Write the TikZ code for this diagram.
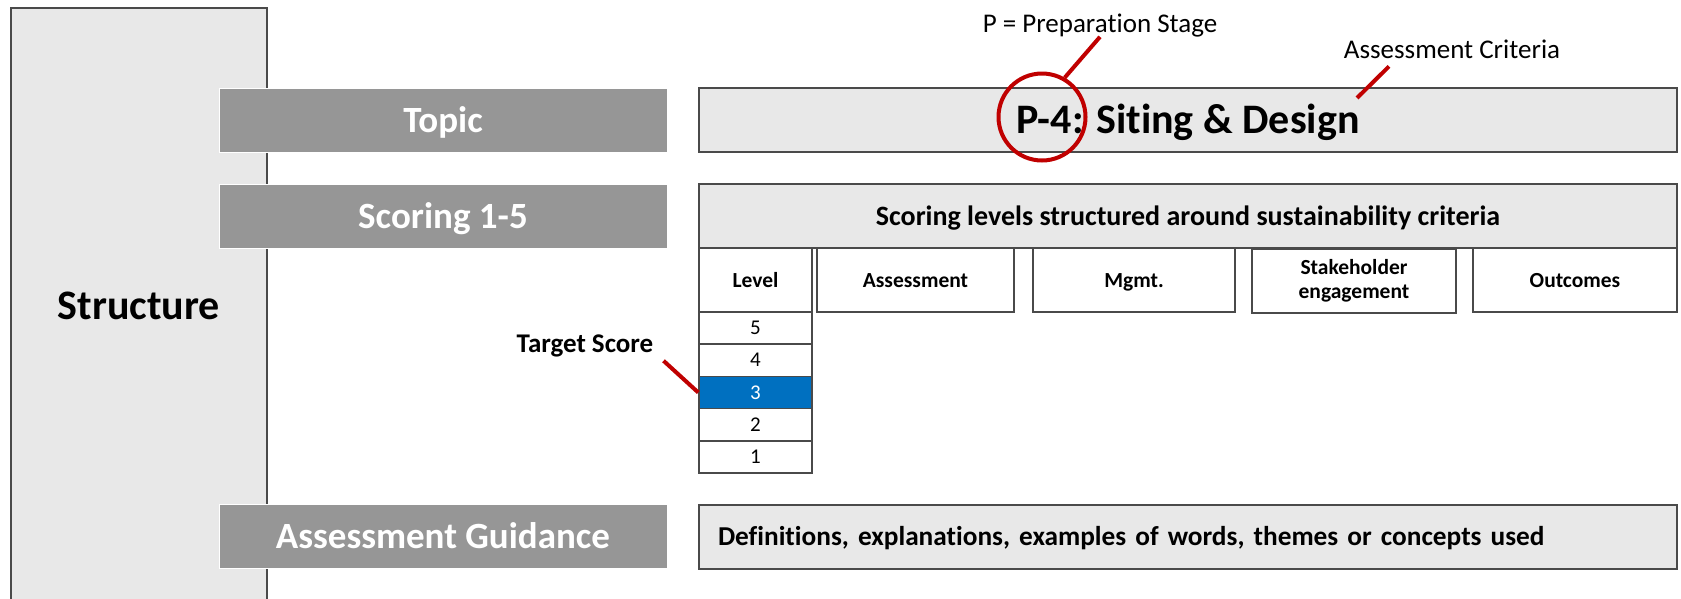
\documentclass[tikz,border=0pt]{standalone}
\usepackage{fontspec}
\setmainfont{Carlito}[Ligatures={NoCommon,NoContextual,NoRequired}]
\definecolor{paneg}{HTML}{E8E8E8}
\definecolor{edgegray}{HTML}{4A4A4A}
\definecolor{bargray}{HTML}{969696}
\definecolor{levblue}{HTML}{0070C0}
\definecolor{calred}{HTML}{C00000}
\begin{document}
\begin{tikzpicture}[x=1pt,y=-1pt,
    scorebar/.style={fill=bargray,draw=white,line width=1pt,minimum width=448pt,minimum height=64pt,
        text=white,font=\fontsize{37}{44}\selectfont\bfseries,text height=24pt,text depth=0pt},
    panelbox/.style={draw=edgegray,line width=2pt,fill=paneg,minimum width=978pt,minimum height=64pt},
    colhead/.style={draw=edgegray,line width=1.5pt,minimum height=64pt,font=\fontsize{21.5}{24}\selectfont\bfseries,align=center},
    oneline/.style={text height=14pt,text depth=0pt},
    levelcell/.style={draw=edgegray,line width=1.5pt,minimum width=113pt,minimum height=32.2pt,
        font=\fontsize{21}{24}\selectfont,text height=13pt,text depth=0pt},
    calloutline/.style={draw=calred,line width=4pt},
    notetext/.style={inner sep=0pt,font=\fontsize{27}{30}\selectfont}]
            \useasboundingbox (0,0) rectangle (1681,598);
            \draw[edgegray,line width=2pt,fill=paneg] (11,620) |- (267,8) -- (267,620);
            \node[font=\fontsize{42}{50}\selectfont\bfseries,text height=27pt,text depth=0pt] (struct) at (139,305.5) {Structure};
            \node[scorebar] (topic) at (443,120) {Topic};
            \node[scorebar] (scoring) at (443,216) {Scoring 1-5};
            \node[scorebar] (guide) at (443,536.5) {Assessment Guidance};
            \node[panelbox,font=\fontsize{42}{50}\selectfont\bfseries,text height=27pt,text depth=0pt] (title) at (1188,120) {P-4: Siting \& Design};
            \node[panelbox,font=\fontsize{28}{32}\selectfont\bfseries,text height=18pt,text depth=0pt] (header) at (1188,216) {Scoring levels structured around sustainability criteria};
            \node[panelbox,text width=940pt,inner xsep=19pt,align=left,font=\fontsize{27.3}{32}\selectfont\bfseries,text height=17.5pt,text depth=0pt] (defs) at (1188,536.5) {Definitions, explanations, examples of words, themes or concepts used};
            \node[colhead,oneline,minimum width=113pt] (lvl) at (755.5,280) {Level};
            \node[colhead,oneline,minimum width=197pt] (asmt) at (915.5,280) {Assessment};
            \node[colhead,oneline,minimum width=202pt] (mgmt) at (1134,280) {Mgmt.};
            \node[colhead,minimum width=204pt] (stake) at (1354,281) {Stakeholder\\engagement};
            \node[colhead,oneline,minimum width=204pt] (outc) at (1575,280) {Outcomes};
            \node[levelcell] (l5) at (755.5,328.1) {5};
            \node[levelcell] (l4) at (755.5,360.3) {4};
            \node[levelcell,fill=levblue,text=white] (l3) at (755.5,392.5) {3};
            \node[levelcell] (l2) at (755.5,424.7) {2};
            \node[levelcell] (l1) at (755.5,456.9) {1};
            \node[draw=calred,line width=4pt,circle,minimum size=87pt] (pcirc) at (1042,117) {};
            \node[notetext,anchor=base] (stage) at (1100,32) {P = Preparation Stage};
            \draw[calloutline] (stage.south) -- (pcirc.60);
            \node[notetext,anchor=base] (critlbl) at (1452,58) {Assessment Criteria};
            \coordinate (critpt) at (1357,98);
            \draw[calloutline] ([xshift=-63pt,yshift=-8pt]critlbl.south) -- (critpt);
            \node[notetext,font=\fontsize{27}{30}\selectfont\bfseries,anchor=base] (tgt) at (585,352) {Target Score};
            \draw[calloutline] ([xshift=10pt,yshift=-4pt]tgt.south east) -- (l3.west);
\end{tikzpicture}
\end{document}
